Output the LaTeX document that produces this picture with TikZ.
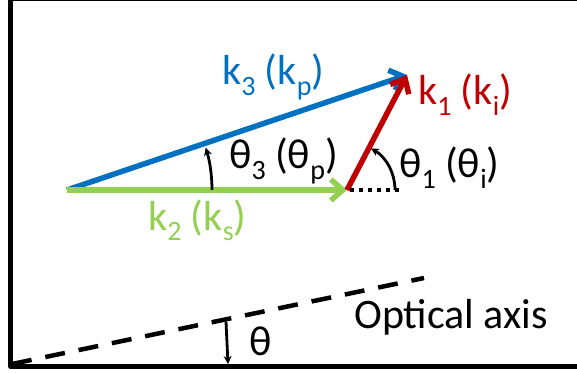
\documentclass[tikz,border=0pt]{standalone}
\usepackage{fontspec}
\setmainfont{Carlito}
\usetikzlibrary{arrows.meta}
\definecolor{kblue}{RGB}{0,112,192}
\definecolor{kgreen}{RGB}{146,208,80}
\definecolor{kred}{RGB}{192,0,0}
\newcommand{\lowsub}[1]{\raisebox{-0.25em}{\fontsize{28}{28}\selectfont #1}}

\begin{document}
\begin{tikzpicture}[x=1pt, y=1pt, line join=round,
    every node/.style={inner sep=0pt, anchor=base west, font=\fontsize{42}{50}\selectfont},
    wave/.style={line width=5.5, -{Straight Barb[length=12,width=21]}},
    angarrow/.style={line width=2.8, -{Stealth[length=8,width=8]}}]
      \useasboundingbox (0,0) rectangle (577,372);
      \clip (0,0) rectangle (577,372);
      \draw[line width=4.5] (600,5.5) -- (10.5,5.5) -- (10.5,373.5) -- (600,373.5);

      \coordinate (o) at (67,182);
      \coordinate (j) at (347,182);
      \coordinate (t) at (407,297);
      \coordinate (d0) at (350,182);
      \coordinate (d1) at (402,182);
      \coordinate (th3s) at (212,182);
      \coordinate (th1s) at (395,182);
      \coordinate (ax0) at (12,8);
      \coordinate (ax1) at (424,94);
      \coordinate (thtop) at (226,50);
      \coordinate (thbot) at (228,8);

      \draw[wave, kblue] (o) -- (t);
      \draw[wave, kgreen] (o) -- (j);
      \draw[wave, kred] (j) -- (t);
      \draw[line width=4, dash pattern=on 4 off 5] (d0) -- (d1);
      \draw[angarrow] (th3s) arc[start angle=0, end angle=17, radius=145];
      \draw[angarrow] (th1s) arc[start angle=0, end angle=60, radius=48];
      \draw[line width=4.5, dash pattern=on 20 off 14] (ax0) -- (ax1);
      \draw[angarrow] (thtop) -- (thbot);

      \node[text=kblue] (k3lab) at (222,287) {k\lowsub{3} (k\lowsub{p})};
      \node[text=kred] (k1lab) at (418,267) {k\lowsub{1} (k\lowsub{i})};
      \node[text=kgreen] (k2lab) at (148,142) {k\lowsub{2} (k\lowsub{s})};
      \node (th3lab) at (229,203) {θ\lowsub{3} (θ\lowsub{p})};
      \node (th1lab) at (399,194) {θ\lowsub{1} (θ\lowsub{i})};
      \node (thlab) at (249,17) {θ};
      \node (axlab) at (354,44) {Optical axis};
    \end{tikzpicture}
\end{document}
